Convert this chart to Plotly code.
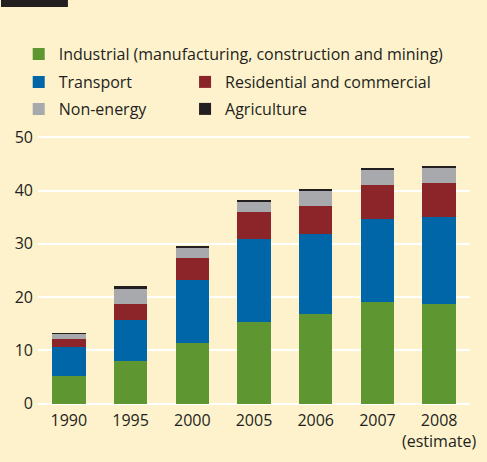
import plotly.graph_objects as go

# Emissions by sector, stacked per year
years = ["1990", "1995", "2000", "2005", "2006", "2007", "2008"]
year_labels = ["1990", "1995", "2000", "2005", "2006", "2007", "2008<br>(estimate)"]

industrial = [5.2, 8.0, 11.4, 15.3, 16.8, 19.1, 18.7]
transport = [5.35, 7.7, 11.9, 15.6, 15.0, 15.55, 16.3]
residential = [1.55, 3.0, 4.0, 5.05, 5.25, 6.35, 6.4]
non_energy = [1.0, 2.8, 2.0, 2.0, 2.8, 2.8, 2.8]
agriculture = [0.1, 0.55, 0.25, 0.25, 0.4, 0.4, 0.4]

y_ticks = [0, 10, 20, 30, 40, 50]

BG = "#fef2cc"
TEXT = "#231f20"
FONT = "Open Sans"
FS = 16

W, H = 487, 462
L, R, T, B = 37.6, 10.5, 132, 53
PW, PH = W - L - R, H - T - B


def px_x(px):
    return (px - L) / PW


def px_y(py):
    return (H - B - py) / PH


series = [
    ("Industrial (manufacturing, construction and mining)", industrial, "#5e9732", "legend", 32, 54),
    ("Transport", transport, "#0066a8", "legend2", 32, 82),
    ("Residential and commercial", residential, "#8b2529", "legend3", 201, 82),
    ("Non-energy", non_energy, "#a8a9ad", "legend4", 32, 109),
    ("Agriculture", agriculture, "#231f20", "legend5", 201, 109),
]

fig = go.Figure()
legend_layout = {}
for name, vals, color, leg, lx, ly in series:
    fig.add_trace(go.Bar(
        x=years, y=vals, name=name, legend=leg,
        marker=dict(color=color, line=dict(width=0)),
        hoverinfo="x+y+name",
    ))
    legend_layout[leg] = dict(
        x=px_x(lx - 14), y=px_y(ly), xanchor="left", yanchor="middle",
        bgcolor="rgba(0,0,0,0)", borderwidth=0,
        font=dict(family=FONT, size=FS, color=TEXT),
        orientation="h", traceorder="normal",
    )

fig.update_layout(
    width=W, height=H,
    margin=dict(l=L, r=R, t=T, b=B),
    paper_bgcolor=BG, plot_bgcolor=BG,
    barmode="stack", bargap=0.46,
    showlegend=True,
    font=dict(family=FONT, size=FS, color=TEXT),
    xaxis=dict(
        tickvals=years, ticktext=year_labels,
        showgrid=False, zeroline=False, showline=False, ticks="",
        tickfont=dict(family=FONT, size=FS, color=TEXT),
    ),
    yaxis=dict(
        range=[-1, 51], tickvals=y_ticks,
        showgrid=True, gridcolor="white", gridwidth=1.6,
        zeroline=False, showline=False, ticks="",
        tickfont=dict(family=FONT, size=FS, color=TEXT),
        ticklabelstandoff=4,
    ),
    shapes=[dict(
        type="rect", xref="paper", yref="paper",
        x0=px_x(0), x1=px_x(68), y0=px_y(7), y1=px_y(-2),
        fillcolor="#231f20", line=dict(width=0), layer="above",
    )],
    **legend_layout,
)

fig.write_html("out.html")
